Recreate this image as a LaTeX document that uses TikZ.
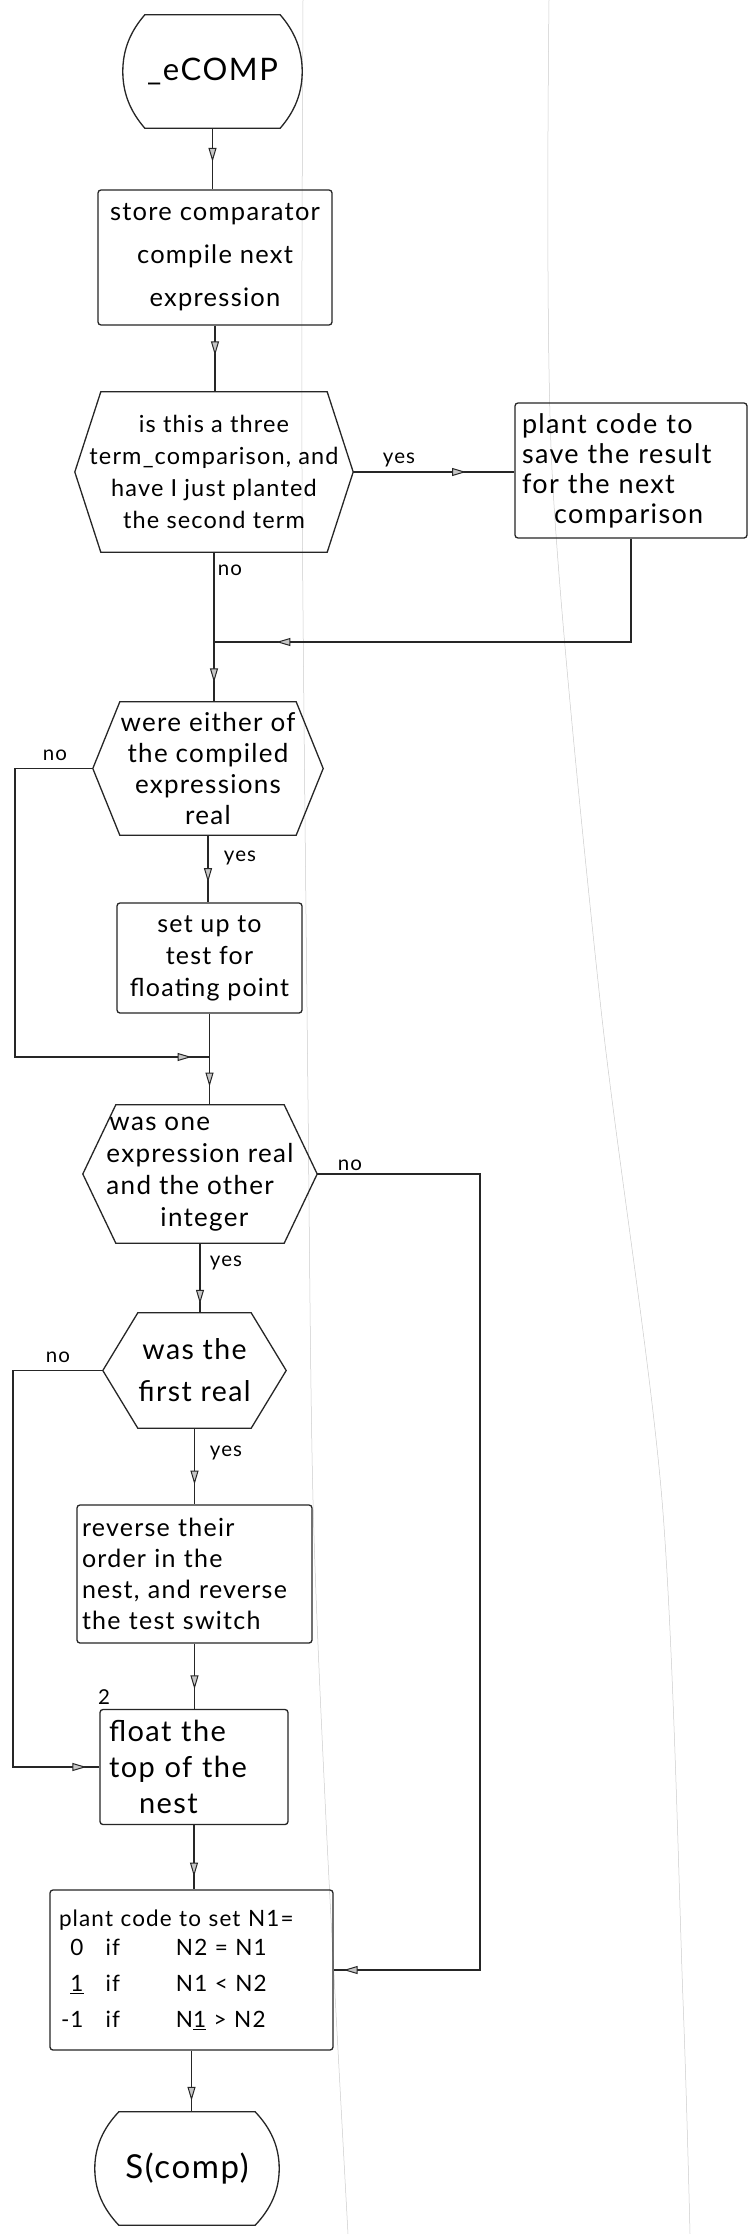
\documentclass[tikz,border=0pt]{standalone}
\usepackage{fontspec}
\setmainfont{Lato}[LetterSpace=5]
\usetikzlibrary{arrows.meta,decorations.markings,calc}
\newcommand{\hf}[2]{\fontsize{#1}{#2}\selectfont}
\tikzset{
  shapeline/.style={line width=1.3pt, draw=black!85},
  boxnode/.style={draw=black!85, line width=1.3pt, rounded corners=3pt, inner sep=0pt, align=center},
  bare/.style={inner sep=0pt, align=center},
  flow/.style={line width=1.2pt, draw=black!85},
  midarrow/.style={postaction={decorate,decoration={markings,mark=at position #1 with {\arrow{Triangle[length=14pt,width=8pt,fill=gray!45,line width=1pt]}}}}},
  midarrow/.default=0.5,
  lbl/.style={font=\hf{20.5}{20.5}, inner sep=0pt},
  paper/.style={gray!40, line width=0.5pt},
}
\newcommand{\hexdraw}[2]{%
  \draw[shapeline] (#1.west) -- ($(#1.north west)+(#2,0)$) -- ($(#1.north east)+(-#2,0)$) -- (#1.east)
    -- ($(#1.south east)+(-#2,0)$) -- ($(#1.south west)+(#2,0)$) -- cycle;}
\newcommand{\termdraw}[3]{%
  \draw[shapeline] ($(#1.north west)+(#2,0)$) -- ($(#1.north east)+(-#2,0)$)
    .. controls +(0.65*#2,0.75*#3) and +(0,-#3) .. (#1.east)
    .. controls +(0,#3) and +(0.65*#2,-0.75*#3) .. ($(#1.south east)+(-#2,0)$)
    -- ($(#1.south west)+(#2,0)$)
    .. controls +(-0.65*#2,-0.75*#3) and +(0,#3) .. (#1.west)
    .. controls +(0,-#3) and +(-0.65*#2,0.75*#3) .. cycle;}
\begin{document}
\begin{tikzpicture}[x=1pt,y=-1pt]
\useasboundingbox (0,0) rectangle (754,2234);
\fill[white] (0,0) rectangle (754,2234);
% faint ruled lines of the paper
\draw[paper] plot[smooth] coordinates {(303,0) (302,470) (308,1100) (313,1500) (326,1820) (348,2234)};
\draw[paper] plot[smooth] coordinates {(549,0) (552,470) (600,1000) (662,1500) (683,2000) (690,2234)};

% nodes
\node[bare, minimum width=179pt, minimum height=113pt, font=\hf{31}{31}] (t1) at (212.5,71.5) {\_eCOMP};
\termdraw{t1}{22}{22}

\node[boxnode, minimum width=234pt, minimum height=135pt, font=\hf{25.5}{43}] (b1) at (215,257.5)
  {store comparator\\compile next\\expression};

\node[bare, minimum width=278pt, minimum height=160pt, font=\hf{23.5}{32}] (h1) at (214,472)
  {is this a three\\term\_comparison, and\\have I just planted\\the second term};
\hexdraw{h1}{26}

\node[boxnode, align=left, text width=218pt, minimum width=232pt, minimum height=135pt, font=\hf{27}{30}] (r1) at (631,470.5)
  {plant code to\\save the result\\for the next\\\hspace*{32pt}comparison};

\node[bare, minimum width=230pt, minimum height=133pt, font=\hf{26}{31}] (h2) at (208,768.5)
  {were either of\\the compiled\\expressions\\real};
\hexdraw{h2}{27}

\node[boxnode, minimum width=185pt, minimum height=110pt, font=\hf{25}{32}] (b2) at (209.5,958)
  {set up to\\test for\\floating point};

\node[bare, align=left, minimum width=234pt, minimum height=138pt, font=\hf{26}{32}] (h3) at (200,1174)
  {\hspace*{3pt}was one\\expression real\\and the other\\\hspace*{54pt}integer};
\hexdraw{h3}{33}

\node[bare, minimum width=183pt, minimum height=115pt, font=\hf{28.5}{42}] (h4) at (194.5,1370.5)
  {was the\\first real};
\hexdraw{h4}{35}

\node[boxnode, align=left, text width=225pt, minimum width=235pt, minimum height=138pt, font=\hf{25}{31}] (b3) at (194.5,1574)
  {reverse their\\order in the\\nest, and reverse\\the test switch};

\node[boxnode, align=left, text width=170pt, minimum width=188pt, minimum height=115pt, font=\hf{29}{36}] (b4) at (194,1767)
  {float the\\top of the\\\hspace*{30pt}nest};
\node[lbl] (n2) at (104,1697) {2};

\node[boxnode, align=left, text width=265pt, minimum width=283pt, minimum height=160pt, font=\hf{22.5}{36}] (b5) at (191.5,1970)
  {\begin{tabular}{@{\hspace{2pt}}r@{\hspace{22pt}}l@{\hspace{56pt}}l@{}}
   \multicolumn{3}{@{}l@{}}{plant code to set N1=}\\[-7pt]
   0 & if & N2 = N1\\
   \underline{1} & if & N1 < N2\\
   -1 & if & N\underline{1} > N2
   \end{tabular}};

\node[bare, minimum width=184pt, minimum height=113pt, font=\hf{33}{33}] (t2) at (187,2168.5)
  {\raisebox{-14pt}{S(comp)}};
\termdraw{t2}{24}{22}

% junctions and bends
\coordinate (j1) at (214,642);
\coordinate (j2) at (209.5,1057);
\coordinate (k2) at (15,1057);
\coordinate (k3) at (480,1970);
\coordinate (k4) at (13,1767);

% connectors
\draw[flow, midarrow=0.55] (t1.south) -- (t1.south |- b1.north);
\draw[flow, midarrow=0.45] (b1.south) -- (b1.south |- h1.north);
\draw[flow, midarrow=0.7] (h1.east) -- (h1.east -| r1.west);
\draw[flow, midarrow=0.87] (h1.south) -- (h1.south |- h2.north);
\draw[flow, midarrow=0.88] (r1.south) |- (j1);
\draw[flow, midarrow=-18pt] (h2.west) -| (k2) -- (j2);
\draw[flow, midarrow=0.7] (h2.south) -- (h2.south |- b2.north);
\draw[flow, midarrow=0.8] (b2.south) -- (b2.south |- h3.north);
\draw[flow, midarrow=-10pt] (h3.east) -| (k3) -- (b5.east);
\draw[flow, midarrow=0.87] (h3.south) -- (h3.south |- h4.north);
\draw[flow, midarrow=-13pt] (h4.west) -| (k4) -- (b4.west);
\draw[flow, midarrow=0.74] (h4.south) -- (h4.south |- b3.north);
\draw[flow, midarrow=0.7] (b3.south) -- (b3.south |- b4.north);
\draw[flow, midarrow=0.8] (b4.south) -- (b4.south |- b5.north);
\draw[flow, midarrow=0.82] (b5.south) -- (b5.south |- t2.north);

% labels
\node[lbl] (yes1) at (399,460) {yes};
\node[lbl] (no1) at (230,570) {no};
\node[lbl] (no2) at (55,755) {no};
\node[lbl] (yes2) at (240,858) {yes};
\node[lbl] (no3) at (350,1165) {no};
\node[lbl] (yes3) at (226,1263) {yes};
\node[lbl] (no4) at (58,1357) {no};
\node[lbl] (yes4) at (226,1453) {yes};
\end{tikzpicture}
\end{document}
